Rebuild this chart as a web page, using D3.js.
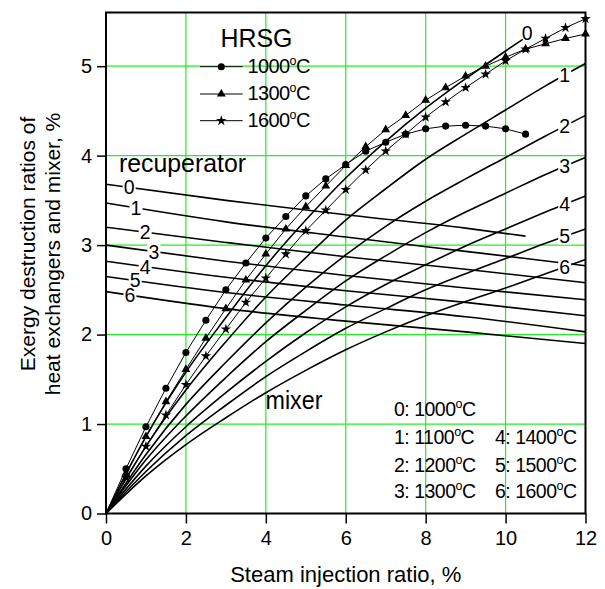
<!DOCTYPE html>
<html>
<head>
<meta charset="utf-8">
<script src="https://cdn.jsdelivr.net/npm/d3@7"></script>
<style>
  body { margin: 0; background: #fff; }
  text { font-family: "Liberation Sans", Arial, Helvetica, sans-serif; fill: #000; }
</style>
</head>
<body>
<svg id="chart" width="605" height="589"></svg>
<script>
// Steam injection ratio (%) sample positions
const mixerX  = [0, 1, 2, 3, 4, 5, 6, 7, 8, 9, 10, 11, 12];
const mixer0X = [0, 1, 2, 3, 4, 5, 6, 7, 8, 9, 10, 10.43];
// Mixer exergy destruction, curves 0..6 (TIT 1000..1600 °C)
const mixer0 = [0, 0.86, 1.58, 2.19, 2.77, 3.28, 3.75, 4.16, 4.53, 4.86, 5.17, 5.30];
const mixer1 = [0, 0.75, 1.38, 1.92, 2.42, 2.86, 3.28, 3.63, 3.96, 4.24, 4.51, 4.78, 5.03];
const mixer2 = [0, 0.66, 1.22, 1.69, 2.13, 2.53, 2.89, 3.21, 3.49, 3.74, 3.98, 4.22, 4.45];
const mixer3 = [0, 0.60, 1.09, 1.52, 1.92, 2.27, 2.60, 2.88, 3.14, 3.37, 3.58, 3.79, 3.98];
const mixer4 = [0, 0.53, 0.97, 1.35, 1.70, 2.02, 2.31, 2.56, 2.78, 2.99, 3.18, 3.37, 3.55];
const mixer5 = [0, 0.47, 0.87, 1.21, 1.53, 1.81, 2.07, 2.29, 2.50, 2.68, 2.85, 3.02, 3.18];
const mixer6 = [0, 0.42, 0.77, 1.07, 1.35, 1.60, 1.83, 2.03, 2.21, 2.37, 2.52, 2.68, 2.84];

// Recuperator exergy destruction, curves 0..6
const recupX  = [0, 3, 6, 9, 12];
const recup0X = [0, 3, 6, 9, 10.5];
const recup0 = [3.68, 3.50, 3.34, 3.19, 3.10];
const recup1 = [3.47, 3.26, 3.09, 2.93, 2.77];
const recup2 = [3.20, 3.03, 2.87, 2.73, 2.58];
const recup3 = [3.00, 2.82, 2.66, 2.52, 2.39];
const recup4 = [2.82, 2.64, 2.49, 2.36, 2.21];
const recup5 = [2.65, 2.47, 2.33, 2.20, 2.03];
const recup6 = [2.48, 2.29, 2.15, 2.03, 1.90];
// where the recuperator curve numbers sit (x in %)
const recupLabelX = [0.58, 0.75, 0.98, 1.2, 0.98, 0.73, 0.6];

// HRSG exergy destruction for three turbine inlet temperatures
const hrsgX = [0, 0.5, 1, 1.5, 2, 2.5, 3, 3.5, 4, 4.5, 5, 5.5, 6, 6.5, 7, 7.5, 8, 8.5, 9, 9.5, 10, 10.5, 11, 11.5, 12];
const hrsg1000 = [0, 0.50, 0.97, 1.40, 1.80, 2.16, 2.50, 2.80, 3.08, 3.32, 3.55, 3.74, 3.90, 4.05, 4.15, 4.24, 4.30, 4.33, 4.34, 4.33, 4.30, 4.24];
const hrsg1300 = [0, 0.45, 0.86, 1.25, 1.61, 1.96, 2.29, 2.61, 2.90, 3.18, 3.43, 3.66, 3.89, 4.10, 4.29, 4.45, 4.62, 4.76, 4.89, 5.00, 5.10, 5.19, 5.25, 5.31, 5.36];
const hrsg1600 = [0, 0.40, 0.75, 1.10, 1.44, 1.76, 2.06, 2.36, 2.63, 2.90, 3.16, 3.39, 3.62, 3.84, 4.05, 4.24, 4.43, 4.60, 4.76, 4.91, 5.06, 5.19, 5.31, 5.43, 5.53];

const xMajor = [0, 2, 4, 6, 8, 10, 12];
const xMinor = [1, 3, 5, 7, 9, 11];
const yMajor = [0, 1, 2, 3, 4, 5];
const yMinor = d3.range(0, 5.61, 0.2).filter(v => Math.abs(v - Math.round(v)) > 1e-6);
const xGrid = [2, 4, 6, 8, 10];
const yGrid = [1, 2, 3, 4, 5];

const tempLegend = [["0", "1000"], ["1", "1100"], ["2", "1200"], ["3", "1300"], ["4", "1400"], ["5", "1500"], ["6", "1600"]];
const hrsgLegend = ["1000", "1300", "1600"];
const mixerLabelX = 11.48;

const svg = d3.select("#chart");
const x = d3.scaleLinear().domain([0, 12]).range([106, 585.5]);
const y = d3.scaleLinear().domain([0, 5.6]).range([513.5, 12.5]);

const pts = (xs, ys) => ys.map((v, i) => [xs[i], v]);
const valueAt = (xs, ys, xv) => d3.scaleLinear().domain(xs.slice(0, ys.length)).range(ys)(xv);

// grid
const grid = svg.append("g").attr("stroke", "#22ee22").attr("stroke-width", 1.2);
grid.selectAll(".gx").data(xGrid).join("line")
  .attr("x1", d => x(d)).attr("x2", d => x(d)).attr("y1", y(0)).attr("y2", y(5.6));
grid.selectAll(".gy").data(yGrid).join("line")
  .attr("y1", d => y(d)).attr("y2", d => y(d)).attr("x1", x(0)).attr("x2", x(12));

const smooth = d3.line().x(d => x(d[0])).y(d => y(d[1])).curve(d3.curveMonotoneX);
const straight = d3.line().x(d => x(d[0])).y(d => y(d[1]));

// recuperator curves
const recupSets = [[recup0X, recup0], [recupX, recup1], [recupX, recup2], [recupX, recup3], [recupX, recup4], [recupX, recup5], [recupX, recup6]];
svg.append("g").selectAll("path").data(recupSets).join("path")
  .attr("d", d => smooth(pts(d[0], d[1])))
  .attr("fill", "none").attr("stroke", "#000").attr("stroke-width", 1.6);

// mixer curves
const mixerSets = [[mixer0X, mixer0], [mixerX, mixer1], [mixerX, mixer2], [mixerX, mixer3], [mixerX, mixer4], [mixerX, mixer5], [mixerX, mixer6]];
svg.append("g").selectAll("path").data(mixerSets).join("path")
  .attr("d", d => smooth(pts(d[0], d[1])))
  .attr("fill", "none").attr("stroke", "#000").attr("stroke-width", 1.6);

// HRSG curves with markers
const hrsgSets = [
  { ys: hrsg1000, sym: d3.symbolCircle, size: 40 },
  { ys: hrsg1300, sym: d3.symbolTriangle, size: 34 },
  { ys: hrsg1600, sym: d3.symbolStar, size: 34 }
];
const hg = svg.append("g");
hrsgSets.forEach(s => {
  const p = pts(hrsgX, s.ys);
  hg.append("path").attr("d", straight(p)).attr("fill", "none").attr("stroke", "#000").attr("stroke-width", 1);
  hg.selectAll(null).data(p.slice(1)).join("path")
    .attr("transform", d => `translate(${x(d[0])},${y(d[1])})`)
    .attr("d", d3.symbol(s.sym, s.size)).attr("fill", "#000");
});

// curve number labels on a white patch
function numberLabel(px, py, txt) {
  const g = svg.append("g").attr("transform", `translate(${px},${py})`);
  g.append("rect").attr("x", -6.5).attr("y", -8).attr("width", 13).attr("height", 16).attr("fill", "#fff");
  g.append("text").attr("text-anchor", "middle").attr("dy", "0.36em").attr("font-size", 19.5).text(txt);
}
recupSets.forEach((d, i) => {
  const xv = recupLabelX[i];
  numberLabel(x(xv), y(valueAt(d[0], d[1], xv)), String(i));
});
mixerSets.forEach((d, i) => {
  if (i === 0) {
    const last = d[1].length - 1;
    svg.append("text").attr("x", x(d[0][last]) - 1).attr("y", y(d[1][last]) + 0.5)
      .attr("font-size", 19.5).text("0");
  } else {
    numberLabel(x(mixerLabelX), y(valueAt(d[0], d[1], mixerLabelX)), String(i));
  }
});

// frame
svg.append("rect").attr("x", x(0)).attr("y", y(5.6)).attr("width", x(12) - x(0)).attr("height", y(0) - y(5.6))
  .attr("fill", "none").attr("stroke", "#000").attr("stroke-width", 2);

// axes
const axX = svg.append("g").attr("transform", `translate(0,${y(0)})`);
axX.call(d3.axisBottom(x).tickValues(xMinor).tickSize(7).tickFormat("").tickSizeOuter(0));
axX.call(d3.axisBottom(x).tickValues(xMajor).tickSize(10).tickPadding(7.5).tickSizeOuter(0));
const axY = svg.append("g").attr("transform", `translate(${x(0)},0)`);
axY.call(d3.axisLeft(y).tickValues(yMinor).tickSize(6).tickFormat("").tickSizeOuter(0));
axY.call(d3.axisLeft(y).tickValues(yMajor).tickSize(9).tickPadding(5).tickFormat(d3.format("d")).tickSizeOuter(0));
svg.selectAll(".domain").remove();
svg.selectAll(".tick line").attr("stroke", "#000").attr("stroke-width", 1.5);
svg.selectAll(".tick text").attr("font-size", 20).attr("font-family", "Liberation Sans, Arial, sans-serif").attr("fill", "#000");

// axis titles
svg.append("text").attr("x", (x(0) + x(12)) / 2).attr("y", 582).attr("text-anchor", "middle")
  .attr("font-size", 22).text("Steam injection ratio, %");
svg.append("text").attr("transform", "translate(35,244) rotate(-90)").attr("text-anchor", "middle")
  .attr("font-size", 21).text("Exergy destruction ratios of");
svg.append("text").attr("transform", "translate(60,254) rotate(-90)").attr("text-anchor", "middle")
  .attr("font-size", 21).text("heat exchangers and mixer, %");

// region names
svg.append("text").attr("x", 119).attr("y", 172).attr("font-size", 26)
  .attr("textLength", 127).attr("lengthAdjust", "spacingAndGlyphs").text("recuperator");
svg.append("text").attr("x", 265.5).attr("y", 409).attr("font-size", 26)
  .attr("textLength", 57).attr("lengthAdjust", "spacingAndGlyphs").text("mixer");

// temperature text with superscript degree "o"
function tempText(sel, prefix, t) {
  sel.append("tspan").text(prefix + t);
  sel.append("tspan").attr("font-size", 12.5).attr("dy", -8).text("o");
  sel.append("tspan").attr("dy", 8).text("C");
}

// HRSG legend
svg.append("text").attr("x", 220.5).attr("y", 47.3).attr("font-size", 26)
  .attr("textLength", 72).attr("lengthAdjust", "spacingAndGlyphs").text("HRSG");
const legRows = [66.7, 94, 120.7];
hrsgSets.forEach((s, i) => {
  svg.append("line").attr("x1", 200).attr("x2", 242.7).attr("y1", legRows[i]).attr("y2", legRows[i])
    .attr("stroke", "#000").attr("stroke-width", 1);
  svg.append("path").attr("transform", `translate(221.3,${legRows[i]})`).attr("d", d3.symbol(s.sym, s.size)).attr("fill", "#000");
  const t = svg.append("text").attr("x", 247.5).attr("y", legRows[i] + 6.3).attr("font-size", 20).attr("letter-spacing", -0.6);
  tempText(t, "", hrsgLegend[i]);
});

// temperature key
const keyPos = [[394, 416], [394, 444], [394, 471.7], [394, 498.3], [495, 444], [495, 471.7], [495, 498.3]];
tempLegend.forEach((d, i) => {
  const t = svg.append("text").attr("x", keyPos[i][0]).attr("y", keyPos[i][1]).attr("font-size", 19.5).attr("letter-spacing", -0.5);
  tempText(t, d[0] + ": ", d[1]);
});
</script>
</body>
</html>
